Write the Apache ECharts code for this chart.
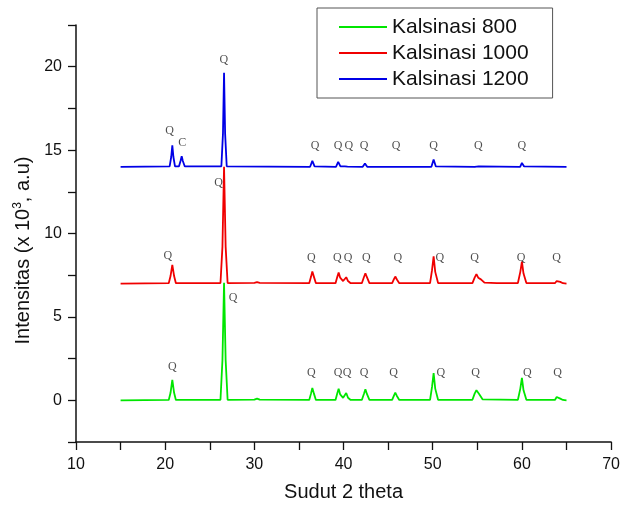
<!DOCTYPE html>
<html>
<head>
<meta charset="utf-8">
<script src="https://cdn.jsdelivr.net/npm/echarts@6/dist/echarts.min.js"></script>
<style>
  html, body { margin: 0; padding: 0; background: #fff; }
  #chart { width: 623px; height: 507px; }
</style>
</head>
<body>
<div id="chart"></div>
<script>
const seriesNames = ['Kalsinasi 800', 'Kalsinasi 1000', 'Kalsinasi 1200'];
const seriesColors = ['#00e600', '#f00000', '#0000e6'];

// [2 theta, intensity (x 10^3)], curves already offset
const pattern800 = [
  [15, 0], [20.4, 0.02], [20.6, 0.45], [20.8, 1.23], [21.0, 0.45], [21.2, 0.02],
  [26.2, 0.03], [26.42, 2.4], [26.6, 7.05], [26.78, 2.4], [27.0, 0.03],
  [30.0, 0.04], [30.3, 0.1], [30.6, 0.04],
  [36.15, 0.02], [36.35, 0.4], [36.5, 0.74], [36.68, 0.4], [36.9, 0.02],
  [39.1, 0.02], [39.3, 0.42], [39.45, 0.7], [39.62, 0.35], [39.95, 0.15], [40.3, 0.44], [40.5, 0.15], [40.8, 0.02],
  [42.05, 0.02], [42.28, 0.38], [42.45, 0.66], [42.62, 0.38], [42.9, 0.02],
  [45.45, 0.02], [45.65, 0.28], [45.8, 0.46], [45.98, 0.26], [46.25, 0.02],
  [49.7, 0.03], [49.92, 0.8], [50.1, 1.63], [50.28, 0.7], [50.6, 0.03],
  [54.45, 0.03], [54.7, 0.4], [54.9, 0.6], [55.2, 0.38], [55.6, 0.05],
  [59.55, 0.03], [59.82, 0.7], [60.0, 1.35], [60.18, 0.6], [60.5, 0.03],
  [63.7, 0.02], [63.9, 0.2], [64.05, 0.3], [64.3, 0.1], [64.6, 0.02], [65, 0]
];
const pattern1000 = [
  [15, 7.0], [20.4, 7.02], [20.6, 7.45], [20.8, 8.12], [21.0, 7.45], [21.2, 7.02],
  [26.2, 7.03], [26.42, 9.2], [26.6, 14.0], [26.78, 9.2], [27.0, 7.03],
  [30.0, 7.04], [30.3, 7.08], [30.6, 7.04],
  [36.15, 7.02], [36.35, 7.4], [36.5, 7.72], [36.68, 7.4], [36.9, 7.02],
  [39.1, 7.02], [39.3, 7.4], [39.45, 7.66], [39.62, 7.35], [39.95, 7.15], [40.3, 7.38], [40.5, 7.15], [40.8, 7.02],
  [42.05, 7.02], [42.28, 7.38], [42.45, 7.62], [42.62, 7.38], [42.9, 7.02],
  [45.45, 7.02], [45.65, 7.26], [45.8, 7.42], [45.98, 7.24], [46.25, 7.02],
  [49.7, 7.03], [49.92, 7.8], [50.1, 8.63], [50.28, 7.7], [50.6, 7.03],
  [54.45, 7.03], [54.7, 7.35], [54.9, 7.56], [55.1, 7.35], [55.4, 7.25], [55.8, 7.05],
  [57.2, 7.03], [57.4, 7.07], [57.6, 7.03],
  [59.55, 7.03], [59.82, 7.7], [60.0, 8.32], [60.18, 7.6], [60.5, 7.03],
  [63.7, 7.02], [63.9, 7.15], [64.05, 7.24], [64.3, 7.1], [64.6, 7.02], [65, 7.0]
];
const pattern1200 = [
  [15, 14.0], [20.5, 14.02], [20.68, 14.6], [20.8, 15.28], [20.92, 14.6], [21.1, 14.03],
  [21.55, 14.03], [21.72, 14.35], [21.85, 14.63], [21.98, 14.35], [22.2, 14.02],
  [26.3, 14.03], [26.48, 16.0], [26.6, 19.64], [26.72, 16.0], [26.9, 14.03],
  [36.25, 14.0], [36.5, 14.35], [36.75, 14.02],
  [39.15, 14.0], [39.4, 14.29], [39.65, 14.02], [40.15, 14.02], [40.3, 14.1], [40.45, 14.01],
  [42.15, 14.0], [42.4, 14.2], [42.65, 14.0],
  [45.6, 14.0], [45.8, 14.1], [46.0, 14.0],
  [49.85, 14.0], [50.1, 14.43], [50.35, 14.02],
  [54.7, 14.0], [54.9, 14.08], [55.15, 14.03],
  [59.8, 14.0], [60.0, 14.23], [60.25, 14.02], [65, 14.0]
];

// phase labels: [2 theta, y, text]
const peakLabels800 = [
  [20.8, 2.02, 'Q'], [27.6, 6.15, 'Q'], [36.4, 1.63, 'Q'], [39.4, 1.63, 'Q'], [40.4, 1.63, 'Q'],
  [42.3, 1.63, 'Q'], [45.6, 1.63, 'Q'], [50.9, 1.63, 'Q'], [54.8, 1.63, 'Q'], [60.6, 1.63, 'Q'], [64.0, 1.63, 'Q']
];
const peakLabels1000 = [
  [20.3, 8.69, 'Q'], [26.0, 13.04, 'Q'], [36.4, 8.57, 'Q'], [39.3, 8.57, 'Q'], [40.5, 8.57, 'Q'],
  [42.55, 8.57, 'Q'], [46.1, 8.57, 'Q'], [50.8, 8.57, 'Q'], [54.7, 8.57, 'Q'], [59.9, 8.57, 'Q'], [63.9, 8.57, 'Q']
];
const peakLabels1200 = [
  [20.5, 16.15, 'Q'], [21.9, 15.46, 'C'], [26.57, 20.4, 'Q'], [36.8, 15.28, 'Q'], [39.4, 15.28, 'Q'],
  [40.6, 15.28, 'Q'], [42.3, 15.28, 'Q'], [45.9, 15.28, 'Q'], [50.1, 15.28, 'Q'], [55.1, 15.28, 'Q'], [60.0, 15.28, 'Q']
];

const patterns = [pattern800, pattern1000, pattern1200];
const peakLabels = [peakLabels800, peakLabels1000, peakLabels1200];

const chart = echarts.init(document.getElementById('chart'));

const lineSeries = patterns.map((data, i) => ({
  name: seriesNames[i],
  type: 'line',
  data: data,
  showSymbol: false,
  symbol: 'none',
  lineStyle: { color: seriesColors[i], width: 1.8 },
  itemStyle: { color: seriesColors[i] },
  animation: false,
  z: 2 + i
}));

const labelSeries = peakLabels.map((data) => ({
  type: 'scatter',
  data: data,
  symbolSize: 0,
  silent: true,
  animation: false,
  label: {
    show: true,
    position: 'inside',
    formatter: p => p.value[2],
    fontFamily: 'Liberation Serif',
    fontSize: 12,
    color: '#222'
  },
  z: 10
}));

const axisFont = { fontFamily: 'Liberation Sans, Arial', fontSize: 16, color: '#111' };

chart.setOption({
  backgroundColor: '#fff',
  animation: false,
  grid: { left: 76, right: 10, top: 25, bottom: 64 },
  legend: {
    data: seriesNames,
    orient: 'vertical',
    left: 317,
    top: 8,
    icon: 'rect',
    itemWidth: 48,
    itemHeight: 2,
    itemGap: 4,
    padding: [8, 24, 8, 22],
    borderColor: '#555',
    borderWidth: 1,
    textStyle: { fontFamily: 'Liberation Sans, Arial', fontSize: 21, color: '#111', lineHeight: 22 }
  },
  xAxis: {
    type: 'value',
    min: 10,
    max: 70,
    interval: 5,
    name: 'Sudut 2 theta',
    nameLocation: 'middle',
    nameGap: 40,
    nameTextStyle: { fontFamily: 'Liberation Sans, Arial', fontSize: 20, color: '#111' },
    axisLine: { show: true, onZero: false, lineStyle: { color: '#111', width: 1.5 } },
    axisTick: { show: true, inside: false, length: 8, lineStyle: { color: '#111', width: 1.3 } },
    axisLabel: Object.assign({ margin: 15, formatter: v => (v % 10 === 0 ? String(v) : '') }, axisFont),
    splitLine: { show: false }
  },
  yAxis: {
    type: 'value',
    min: -2.5,
    max: 22.5,
    interval: 2.5,
    name: 'Intensitas (x 10{sup|3}, a.u)',
    nameLocation: 'middle',
    nameRotate: 90,
    nameGap: 42,
    nameTextStyle: {
      fontFamily: 'Liberation Sans, Arial',
      fontSize: 20,
      color: '#111',
      padding: [0, 34, 0, 0],
      rich: {
        sup: { fontFamily: 'Liberation Sans, Arial', fontSize: 12, color: '#111', verticalAlign: 'top', padding: [0, 0, 10, 0] }
      }
    },
    axisLine: { show: true, onZero: false, lineStyle: { color: '#111', width: 1.5 } },
    axisTick: { show: true, inside: false, length: 8, lineStyle: { color: '#111', width: 1.3 } },
    axisLabel: Object.assign({ margin: 14, formatter: v => (v % 5 === 0 ? String(v) : '') }, axisFont),
    splitLine: { show: false }
  },
  series: lineSeries.concat(labelSeries)
});
</script>
</body>
</html>
